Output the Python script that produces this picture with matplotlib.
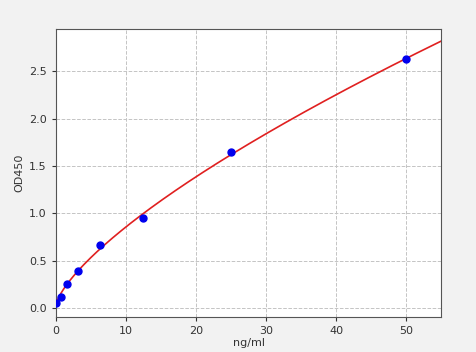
import numpy as np
import matplotlib
matplotlib.use("Agg")
import matplotlib.pyplot as plt

# standard points
conc = [0, 0.78, 1.56, 3.125, 6.25, 12.5, 25, 50]
od450 = [0.05, 0.12, 0.25, 0.39, 0.67, 0.95, 1.65, 2.63]

x_label = "ng/ml"
y_label = "OD450"
x_ticks = [0, 10, 20, 30, 40, 50]
y_ticks = [0.0, 0.5, 1.0, 1.5, 2.0, 2.5]

# fit y = a + b * x^c (grid over c, least squares for a, b)
xd = np.array(conc, dtype=float)
yd = np.array(od450, dtype=float)
best = None
for c in np.linspace(0.3, 1.2, 901):
    A = np.column_stack([np.ones_like(xd), xd ** c])
    coef, res, *_ = np.linalg.lstsq(A, yd, rcond=None)
    err = np.sum((A @ coef - yd) ** 2)
    if best is None or err < best[0]:
        best = (err, coef, c)
_, (a, b), c = best
xs = np.linspace(0, 55, 300)
ys = a + b * xs ** c

fig = plt.figure(figsize=(4.77, 3.52), dpi=100, facecolor="#f2f2f2")
ax = fig.add_axes([0.117, 0.099, 0.808, 0.819])
ax.set_facecolor("white")
ax.plot(xs, ys, color="#e02020", lw=1.2, zorder=2)
ax.plot(conc, od450, "o", color="#0000ee", ms=5, zorder=3)
ax.grid(True, ls="--", color="#c4c4c4", lw=0.7)
ax.set_xlim(0, 55)
ax.set_ylim(-0.095, 2.95)
ax.set_xticks(x_ticks)
ax.set_yticks(y_ticks)
ax.tick_params(labelsize=8, colors="#333333", length=3)
for s in ax.spines.values():
    s.set_color("#555555")
ax.set_xlabel(x_label, fontsize=8, labelpad=1, color="#333333")
ax.set_ylabel(y_label, fontsize=8, labelpad=3, color="#333333")
fig.savefig("out.png", dpi=100, facecolor=fig.get_facecolor())
